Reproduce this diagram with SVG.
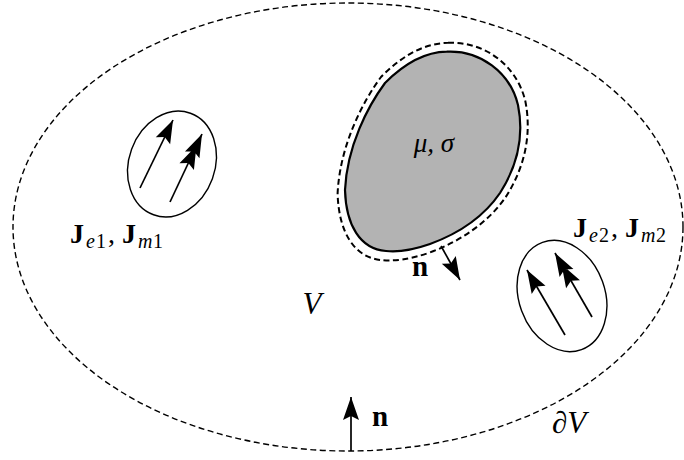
<svg xmlns="http://www.w3.org/2000/svg" xmlns:xlink="http://www.w3.org/1999/xlink" width="684" height="460" viewBox="0 0 684 460">
<style>
.lbl{font-family:"Liberation Serif","DejaVu Serif",serif;fill:#000}
.it{font-style:italic}
.bf{font-weight:bold}
.sub{font-size:20px;font-style:italic}
.num{font-size:20px}
.dash{fill:none;stroke:#000;stroke-dasharray:6 3.5}
.src{fill:none;stroke:#000;stroke-width:1.4}
.arr{fill:none;stroke:#000;stroke-width:1.7}
</style>
<defs>
<marker id="head" markerUnits="userSpaceOnUse" orient="auto" refX="0" refY="0" viewBox="-25 -10 27 20" markerWidth="27" markerHeight="20" overflow="visible">
<path d="M0,0 L-23,-8 L-19,0 L-23,8 Z" fill="#000"/>
</marker>
<marker id="head2" markerUnits="userSpaceOnUse" orient="auto" refX="0" refY="0" viewBox="-38 -10 40 20" markerWidth="40" markerHeight="20" overflow="visible">
<path d="M0,0 L-23,-8 L-19,0 L-23,8 Z M-13,0 L-36,-8 L-32,0 L-36,8 Z" fill="#000"/>
</marker>
</defs>
<rect width="684" height="460" fill="#fff"/>

<g id="boundary">
<ellipse cx="348" cy="227" rx="335" ry="224" class="dash" stroke-width="1.4"/>
<text class="lbl it" x="552" y="433" font-size="31">∂V</text>
</g>

<g id="volume-label">
<text class="lbl it" x="312" y="314" font-size="31" text-anchor="middle">V</text>
</g>

<g id="scatterer">
<path d="M446.7,51.7 C480,50 510,72 518,105 C524,135 518,165 500,193 C485,215 460,233 430,244 C410,251 395,252 386,251 C360,249 346,225 345,190 C347,146 368,106 385,83 C405,63 425,52 446.7,51.7 Z" fill="#b3b3b3" stroke="#000" stroke-width="2.2"/>
<path d="M447.95,42.85 C484.1,41 516.6,64.98 525.3,100.95 C531.8,133.65 525.3,166.35 505.8,196.9 C489.5,220.85 462.4,240.5 429.8,252.5 C408.1,260.1 391.9,261.2 382.1,260.1 C353.9,257.9 338.7,231.75 337.6,193.6 C339.8,145.6 362.6,102 381,76.97 C402.7,55.17 424.4,43.2 447.95,42.85 Z" class="dash" stroke-width="2"/>
<text class="lbl it" x="434" y="152" font-size="27" text-anchor="middle">μ, σ</text>
</g>

<g id="source1">
<ellipse cx="172" cy="164" rx="43" ry="54" transform="rotate(20 172 164)" class="src"/>
<text class="lbl" y="243" font-size="28"><tspan class="bf" x="70">J</tspan><tspan class="sub" x="86" y="248">e</tspan><tspan class="num" x="96" y="248">1</tspan><tspan x="108" y="243">,</tspan><tspan class="bf" x="122">J</tspan><tspan class="sub" x="138" y="248">m</tspan><tspan class="num" x="153" y="248">1</tspan></text>
</g>

<g id="source2">
<ellipse cx="562" cy="296" rx="43" ry="57" transform="rotate(-20 562 296)" class="src"/>
<text class="lbl" y="237" font-size="28"><tspan class="bf" x="573">J</tspan><tspan class="sub" x="589" y="242">e</tspan><tspan class="num" x="599" y="242">2</tspan><tspan x="611" y="237">,</tspan><tspan class="bf" x="625">J</tspan><tspan class="sub" x="641" y="242">m</tspan><tspan class="num" x="656" y="242">2</tspan></text>
</g>

<g id="connectors">
<line x1="140" y1="188" x2="173" y2="120" class="arr" marker-end="url(#head)"/>
<line x1="170" y1="202" x2="202" y2="134" class="arr" marker-end="url(#head2)"/>
<line x1="565" y1="335" x2="527" y2="270" class="arr" marker-end="url(#head)"/>
<line x1="592" y1="317" x2="555" y2="253" class="arr" marker-end="url(#head2)"/>
<line x1="441" y1="246" x2="460" y2="280" class="arr" marker-end="url(#head)"/>
<line x1="351" y1="451" x2="351" y2="397" class="arr" marker-end="url(#head)"/>
</g>

<g id="normal-labels">
<text class="lbl bf" x="412" y="276" font-size="29">n</text>
<text class="lbl bf" x="372" y="426" font-size="29">n</text>
</g>
</svg>
